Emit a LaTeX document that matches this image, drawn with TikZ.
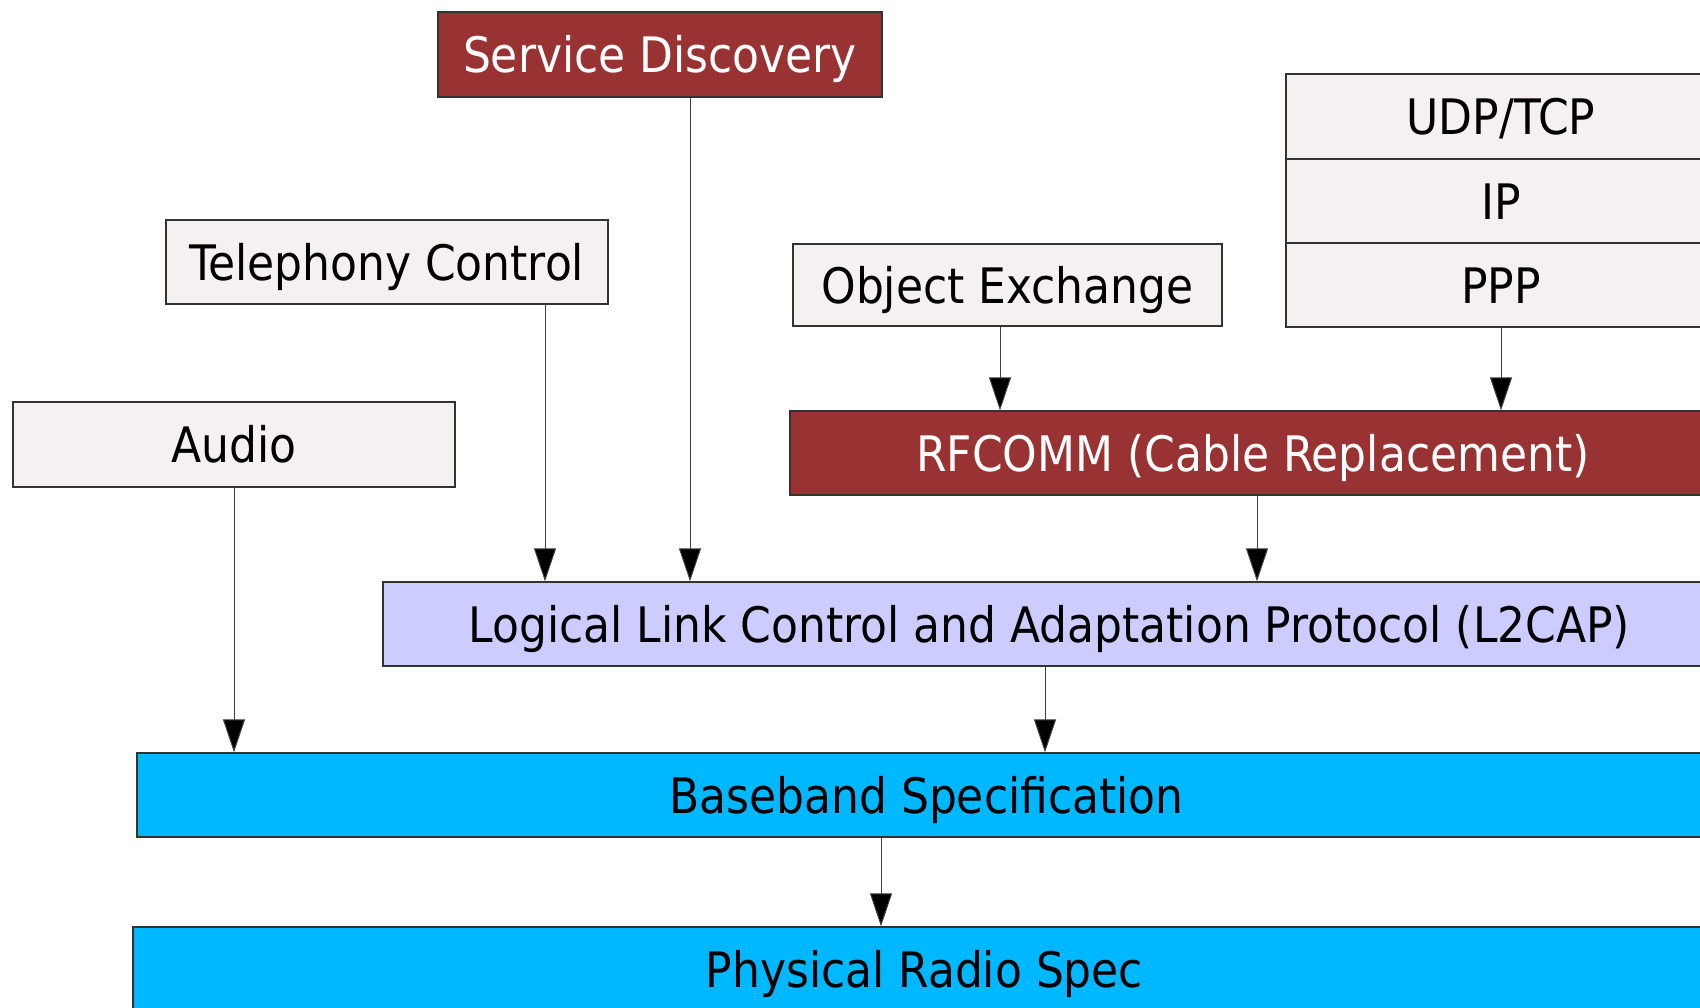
\documentclass[tikz,border=0pt]{standalone}
\usepackage{fontspec}
\setmainfont{DejaVu Sans Condensed}
\usetikzlibrary{arrows.meta}
\definecolor{boxgray}{HTML}{F4F1F0}
\definecolor{boxred}{HTML}{993333}
\definecolor{boxlav}{HTML}{CCCCFF}
\definecolor{boxblue}{HTML}{00B8FF}
\tikzset{
  blk/.style={draw=black!80, line width=1.2pt, rectangle, inner sep=0pt, minimum height=84pt,
     text height=38pt, text depth=2pt,
     font=\fontsize{48.9}{58}\selectfont, text=black},
  grey/.style={blk, fill=boxgray},
  red/.style={blk, fill=boxred, text=white},
  lav/.style={blk, fill=boxlav},
  blue/.style={blk, fill=boxblue},
  arr/.style={draw=black!75, line width=1pt, -{Triangle[length=33pt,width=22pt,fill=black]}}
}
\begin{document}
\begin{tikzpicture}[x=1pt,y=-1pt]
\useasboundingbox (0,0) rectangle (1700,1007);
\clip (0,0) rectangle (1700,1007);
\node[red, minimum width=444pt, minimum height=85pt] (sd) at (660,54.5) {Service Discovery};
\node[grey, minimum width=442pt] (tel) at (387,262) {Telephony Control};
\node[grey, minimum width=442pt, minimum height=85pt] (audio) at (234,444.5) {Audio};
\node[grey, minimum width=429pt, minimum height=82pt] (obex) at (1007.5,285) {Object Exchange};
\node[grey, minimum width=430pt, minimum height=85pt] (udp) at (1501,116.5) {UDP/TCP};
\node[grey, minimum width=430pt, minimum height=84pt] (ip) at (1501,201) {IP};
\node[grey, minimum width=430pt, minimum height=84pt] (ppp) at (1501,285) {PPP};
\node[red, minimum width=926pt] (rf) at (1253,453) {RFCOMM (Cable Replacement)};
\node[lav, minimum width=1333pt] (l2) at (1049.5,624) {Logical Link Control and Adaptation Protocol (L2CAP)};
\node[blue, minimum width=1579pt] (bb) at (926.5,795) {Baseband Specification};
\node[blue, minimum width=1583pt] (phy) at (924.5,969) {Physical Radio Spec};
\draw[arr] (sd.south -| 690,0) -- (l2.north -| 690,0);
\draw[arr] (tel.south -| 545,0) -- (l2.north -| 545,0);
\draw[arr] (audio.south) -- (bb.north -| audio.south);
\draw[arr] (obex.south -| 1000,0) -- (rf.north -| 1000,0);
\draw[arr] (ppp.south) -- (rf.north -| ppp.south);
\draw[arr] (rf.south -| 1257,0) -- (l2.north -| 1257,0);
\draw[arr] (l2.south -| 1045,0) -- (bb.north -| 1045,0);
\draw[arr] (bb.south -| 881,0) -- (phy.north -| 881,0);
\end{tikzpicture}
\end{document}
